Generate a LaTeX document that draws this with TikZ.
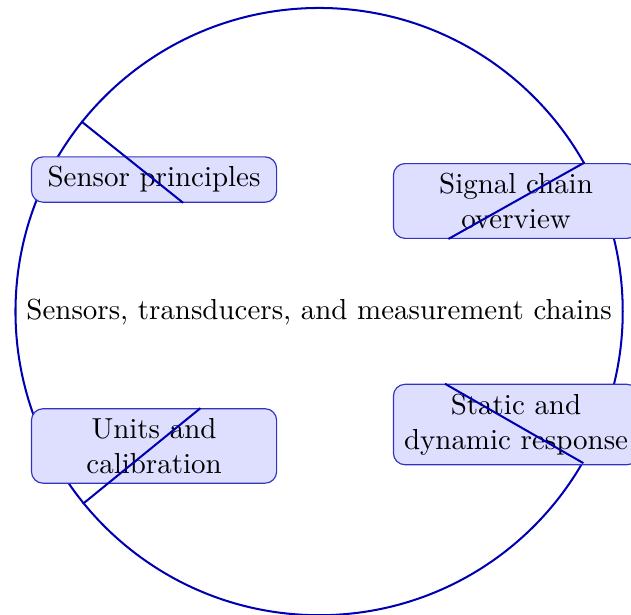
\documentclass[tikz,border=0pt]{standalone}
\begin{document}
\begin{tikzpicture}
[hubdecorate/.style={shape=circle,inner sep=3.8pt,draw=blue!70!black,line width=0.7pt},%
  topicdecorate/.style={shape=rectangle,rounded corners,draw=blue!70!black!80,fill=blue!13,text width=78pt,align=center},%
  linedecorate/.style={-,line width=0.7pt,draw=blue!70!black}]
\useasboundingbox (-110.2pt,-104.7pt) rectangle (107.7pt,107.6pt);
%%% central topic
\node (hub) at (0,0) [hubdecorate] {Sensors, transducers, and measurement chains};
% topics round it
\node (principles) at (-57pt,45.6pt) [topicdecorate] {Sensor principles};
\node (chain) at (68pt,38.2pt) [topicdecorate] {Signal chain overview};
\node (response) at (68pt,-39pt) [topicdecorate] {Static and dynamic response};
\node (units) at (-57pt,-46.4pt) [topicdecorate] {Units and calibration};
% edges or lines
\path
(hub) edge[linedecorate] (principles)
(hub) edge[linedecorate] (chain)
(hub) edge[linedecorate] (response)
(hub) edge[linedecorate] (units);
\end{tikzpicture}
\end{document}
